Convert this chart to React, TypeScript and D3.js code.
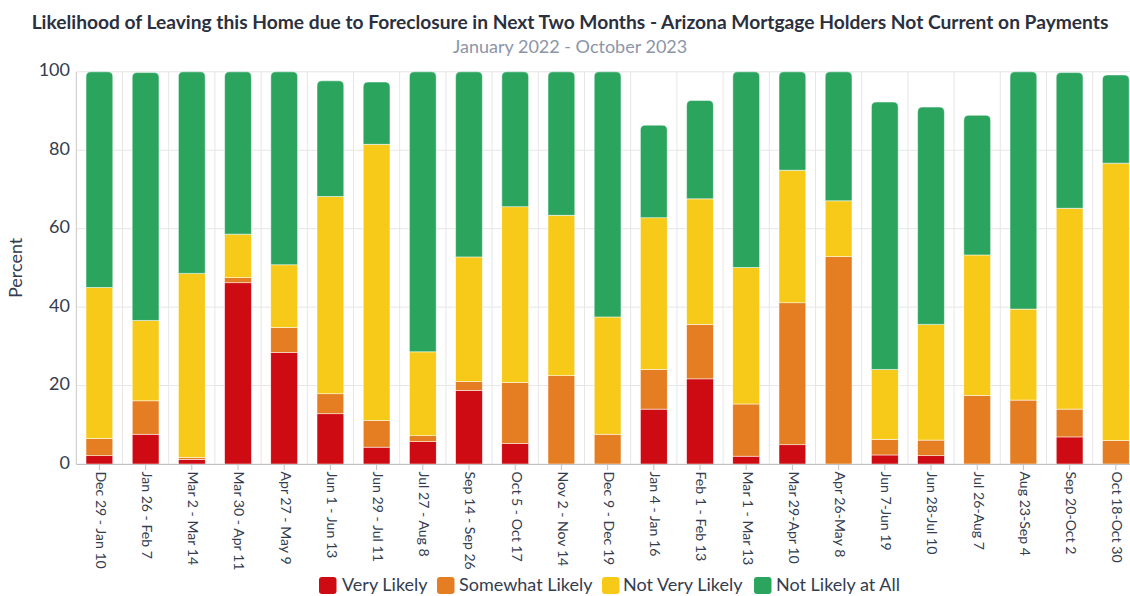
import React from "react";
import * as d3 from "d3";

const categories = [
  "Dec 29 - Jan 10", "Jan 26 - Feb 7", "Mar 2 - Mar 14", "Mar 30 - Apr 11", "Apr 27 - May 9",
  "Jun 1 - Jun 13", "Jun 29 - Jul 11", "Jul 27 - Aug 8", "Sep 14 - Sep 26", "Oct 5 - Oct 17",
  "Nov 2 - Nov 14", "Dec 9 - Dec 19", "Jan 4 - Jan 16", "Feb 1 - Feb 13", "Mar 1 - Mar 13",
  "Mar 29-Apr 10", "Apr 26-May 8", "Jun 7-Jun 19", "Jun 28-Jul 10", "Jul 26-Aug 7",
  "Aug 23-Sep 4", "Sep 20-Oct 2", "Oct 18-Oct 30",
];

const veryLikely = [2.1, 7.6, 1.2, 46.2, 28.4, 12.8, 4.3, 5.7, 18.8, 5.2, 0, 0, 14.0, 21.7, 2.0, 4.9, 0, 2.3, 2.1, 0, 0, 6.9, 0];
const somewhatLikely = [4.4, 8.5, 0.5, 1.3, 6.4, 5.1, 6.8, 1.5, 2.2, 15.6, 22.5, 7.6, 10.1, 13.9, 13.3, 36.2, 52.9, 4.0, 4.0, 17.5, 16.3, 7.1, 6.0];
const notVeryLikely = [38.5, 20.5, 46.9, 11.1, 16.0, 50.3, 70.4, 21.4, 31.8, 44.8, 40.9, 29.9, 38.7, 32.0, 34.8, 33.8, 14.2, 17.8, 29.5, 35.8, 23.2, 51.2, 70.7];
const notLikelyAtAll = [55.0, 63.2, 51.4, 41.4, 49.2, 29.5, 15.9, 71.4, 47.2, 34.4, 36.6, 62.5, 23.6, 25.1, 49.9, 25.1, 32.9, 68.2, 55.4, 35.6, 60.5, 34.6, 22.5];

const seriesNames = ["Very Likely", "Somewhat Likely", "Not Very Likely", "Not Likely at All"];
const seriesColors = ["#CE0A12", "#E57E22", "#F7CA1A", "#2BA55E"];
const yTicks = [0, 20, 40, 60, 80, 100];

const title = "Likelihood of Leaving this Home due to Foreclosure in Next Two Months - Arizona Mortgage Holders Not Current on Payments";
const subtitle = "January 2022 - October 2023";

const W = 1130;
const H = 596;
const FONT = "Lato, 'Noto Sans', sans-serif";

function topRoundedRect(x: number, y: number, w: number, h: number, r: number) {
  const rr = Math.min(r, h, w / 2);
  return `M${x},${y + h}V${y + rr}Q${x},${y} ${x + rr},${y}H${x + w - rr}Q${x + w},${y} ${x + w},${y + rr}V${y + h}Z`;
}

export default function App() {
  const x = d3.scaleBand<string>().domain(categories).range([76.3, 1138.9]).paddingInner(0.42).paddingOuter(0.21);
  const y = d3.scaleLinear().domain([0, 100]).range([464, 71.8]);
  const step = x.step();
  const left = 76.3;

  const table = categories.map((c, i) => ({
    cat: c,
    vals: [veryLikely[i], somewhatLikely[i], notVeryLikely[i], notLikelyAtAll[i]],
  }));
  const stack = d3.stack<any, number>().keys([0, 1, 2, 3]).value((d, k) => d.vals[k]);
  const stacked = stack(table as any);

  const legendItems = [
    { x: 319, tx: 342 },
    { x: 437, tx: 459 },
    { x: 602, tx: 623 },
    { x: 754, tx: 776 },
  ];

  return (
    <svg width={W} height={H} style={{ position: "absolute", left: 0, top: 0, background: "#fff" }} fontFamily={FONT}>
      <text x={570} y={29} textAnchor="middle" fontSize={19.2} fontWeight={700} fill="#2b3040">{title}</text>
      <text x={570} y={53} textAnchor="middle" fontSize={18} fill="#8c95a6">{subtitle}</text>

      {/* horizontal grid */}
      {yTicks.map((t) => (
        <line key={"g" + t} x1={left} x2={W} y1={y(t)} y2={y(t)} stroke="#e6e6e6" strokeWidth={1} />
      ))}
      {/* vertical grid */}
      {categories.slice(1).map((c, i) => {
        const xx = left + (i + 1) * step;
        return <line key={"v" + i} x1={xx} x2={xx} y1={y(100)} y2={y(0)} stroke="#e6e6e6" strokeWidth={1} />;
      })}

      {/* bars */}
      {categories.map((c, i) => {
        const bx = x(c)!;
        const bw = x.bandwidth();
        let topIdx = -1;
        for (let k = 3; k >= 0; k--) {
          if (stacked[k][i][1] - stacked[k][i][0] > 0) { topIdx = k; break; }
        }
        return (
          <g key={"b" + i}>
            {stacked.map((s, k) => {
              const [y0, y1] = s[i];
              if (y1 - y0 <= 0) return null;
              const top = y(y1);
              const h = y(y0) - y(y1);
              if (k === topIdx) {
                return <path key={k} d={topRoundedRect(bx, top, bw, h, 5)} fill={seriesColors[k]} stroke="#ffffff" strokeWidth={0.5} />;
              }
              return <rect key={k} x={bx} y={top} width={bw} height={h} fill={seriesColors[k]} stroke="#ffffff" strokeWidth={0.5} />;
            })}
          </g>
        );
      })}

      {/* axes */}
      <line x1={left} x2={left} y1={y(100)} y2={y(0)} stroke="#c8c8c8" strokeWidth={1} />
      <line x1={left} x2={W} y1={y(0) + 0.5} y2={y(0) + 0.5} stroke="#c0c0c0" strokeWidth={1} />
      {categories.map((c, i) => {
        const cx = x(c)! + x.bandwidth() / 2;
        return (
          <g key={"t" + i}>
            <line x1={cx} x2={cx} y1={y(0)} y2={y(0) + 6} stroke="#c0c0c0" strokeWidth={1} />
            <text transform={`translate(${cx},${y(0) + 7.5}) rotate(90)`} textAnchor="start" dominantBaseline="middle" fontSize={14.1} fill="#333d4f">{c}</text>
          </g>
        );
      })}
      {yTicks.map((t) => (
        <text key={"yl" + t} x={70} y={y(t)} textAnchor="end" dominantBaseline="middle" fontSize={18} fill="#333d4f">{t}</text>
      ))}
      <text transform={`translate(17,${y(50)}) rotate(-90)`} textAnchor="middle" dominantBaseline="middle" fontSize={18} fill="#333d4f">Percent</text>

      {/* legend */}
      {seriesNames.map((n, k) => (
        <g key={"l" + k}>
          <rect x={legendItems[k].x} y={577} width={17.5} height={17} rx={3} fill={seriesColors[k]} />
          <text x={legendItems[k].tx} y={586} dominantBaseline="middle" fontSize={18} fill="#333d4f">{n}</text>
        </g>
      ))}
    </svg>
  );
}
